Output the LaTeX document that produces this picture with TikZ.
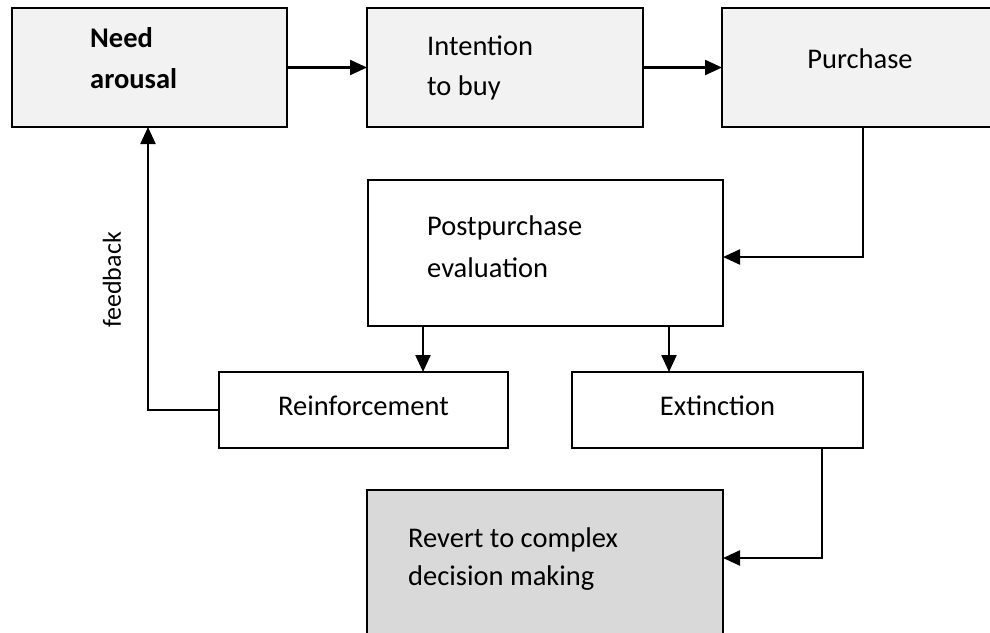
\documentclass[tikz,border=0pt]{standalone}
\usepackage{fontspec}
\setmainfont{Carlito}
\usetikzlibrary{arrows.meta,calc}
\definecolor{boxgrey}{HTML}{F2F2F2}
\definecolor{revgrey}{HTML}{D9D9D9}
\begin{document}
\begin{tikzpicture}[x=1pt,y=-1pt,
  stage/.style={draw=black, line width=2.3pt, rectangle, inner sep=0pt, outer sep=0pt},
  lbl/.style={font=\fontsize{28.5}{34}\selectfont, inner sep=0pt, anchor=base west},
  clbl/.style={lbl, anchor=base},
  arr/.style={line width=2.3pt, -{Triangle[length=17pt,width=15pt]}}]
\useasboundingbox (0,0) rectangle (990,632);
\clip (0,0) rectangle (990,632);

% process stages
\node[stage, fill=boxgrey, minimum width=275pt, minimum height=119pt] (need)   at (149.5,67.5) {};
\node[stage, fill=boxgrey, minimum width=276pt, minimum height=119pt] (intent) at (505,67.5) {};
\node[stage, fill=boxgrey, minimum width=276pt, minimum height=119pt] (purch)  at (860,67.5) {};
\node[stage, fill=white,   minimum width=355pt, minimum height=146pt] (post)   at (545.5,253) {};
\node[stage, fill=white,   minimum width=289pt, minimum height=76pt]  (reinf)  at (363.5,410) {};
\node[stage, fill=white,   minimum width=291pt, minimum height=76pt]  (ext)    at (717.5,410) {};
\node[stage, fill=revgrey, minimum width=356pt, minimum height=170pt] (revert) at (545,575) {};

% stage texts
\node[lbl] (needA) at (90,47) {\bfseries Need};
\node[lbl] (needB) at (90,88) {\bfseries arousal};
\node[lbl] (intA) at (427,55) {Intention};
\node[lbl] (intB) at (427,95) {to buy};
\node[clbl] (purT) at (860,68) {Purchase};
\node[lbl] (postA) at (427,235) {Postpurchase};
\node[lbl] (postB) at (427,277) {evaluation};
\node[clbl] (reiT) at (363.5,415) {Reinforcement};
\node[clbl] (extT) at (717.5,415) {Extinction};
\node[lbl] (revA) at (408,547) {Revert to complex};
\node[lbl] (revB) at (408,585) {decision making};

% connectors
\draw[arr] (need.east) -- (intent.west);
\draw[arr] (intent.east) -- (purch.west);
\draw[arr] ([xshift=3pt]purch.south) |- ($(post.east)+(0,4)$);
\coordinate (pL) at ([xshift=-122.5pt]post.south);
\coordinate (pR) at ([xshift=123.5pt]post.south);
\draw[arr] (pL) -- (pL |- reinf.north);
\draw[arr] (pR) -- (pR |- ext.north);
\coordinate (eOut) at ([xshift=104.5pt]ext.south);
\draw[arr] (eOut) |- ($(revert.north east)+(0,68)$);
\coordinate (fbTop) at ([xshift=-1.5pt]need.south);
\draw[arr] (reinf.west) -| (fbTop);
\node[font=\fontsize{26}{30}\selectfont, rotate=90, inner sep=0pt] (fbT) at (112,280) {feedback};
\end{tikzpicture}
\end{document}
